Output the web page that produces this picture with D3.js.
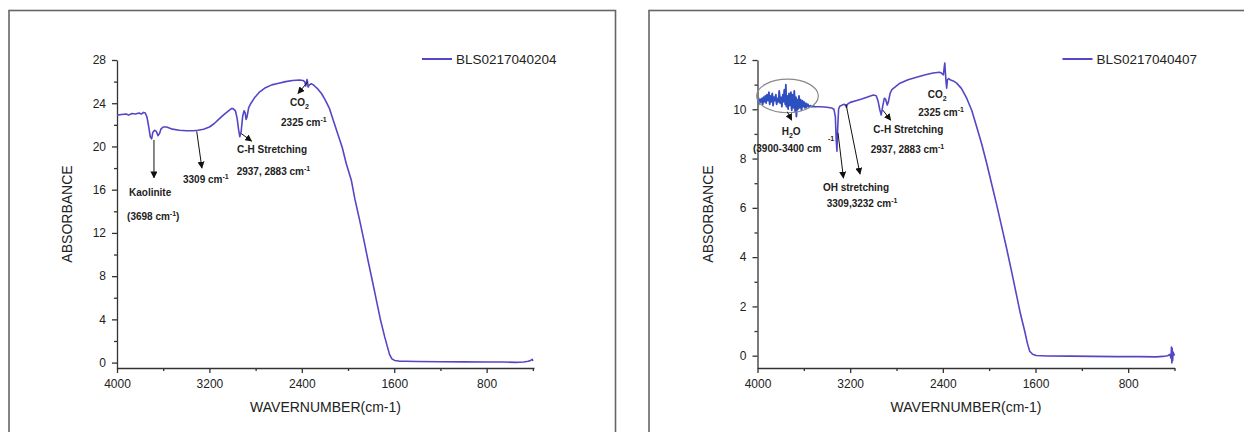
<html lang="en">
<head>
    <meta charset="UTF-8">
    <title>FTIR absorbance spectra</title>
    <script src="https://cdn.jsdelivr.net/npm/d3@7/dist/d3.min.js" type="text/javascript"></script>
    <style>
        body { margin: 0; background: #fff; }
        svg text { font-family: "Liberation Sans", Arial, sans-serif; fill: #222; }
        .axis path, .axis line { stroke: #333; stroke-width: 1.3; }
        .axis text { font-size: 12px; fill: #222; }
    </style>
</head>
<body>
    <svg id="svg"></svg>

    <script>

        var WIDTH = 1244;
        var HEIGHT = 432;
        var PLOT_TOP = 60;
        var PLOT_BOTTOM = 368;

        // axis ticks (shared x axis, separate y axes)
        var xTicks = [4000, 3200, 2400, 1600, 800];
        var xMinorTicks = [3600, 2800, 2000, 1200, 400];
        var leftYTicks = [0, 4, 8, 12, 16, 20, 24, 28];
        var leftYMinor = [2, 6, 10, 14, 18, 22, 26];
        var rightYTicks = [0, 2, 4, 6, 8, 10, 12];
        var rightYMinor = [1, 3, 5, 7, 9, 11];

        var leftName = "BLS0217040204";
        var rightName = "BLS0217040407";

        // left spectrum
        var leftWn = [4000, 3960, 3920, 3900, 3870, 3840, 3810, 3790, 3770, 3755,
                      3740, 3725, 3712, 3700, 3690, 3675, 3660, 3645, 3632, 3620,
                      3600, 3570, 3520, 3460, 3400, 3340, 3300, 3250, 3200, 3160,
                      3120, 3080, 3040, 3010, 2995, 2975, 2960, 2948, 2937, 2925,
                      2912, 2900, 2890, 2883, 2875, 2860, 2840, 2810, 2770, 2720,
                      2660, 2600, 2540, 2480, 2420, 2390, 2375, 2365, 2355, 2345,
                      2335, 2318, 2300, 2285, 2260, 2230, 2200, 2160, 2130, 2090,
                      2050, 2015, 1972, 1940, 1900, 1860, 1828, 1790, 1755, 1720,
                      1683, 1660, 1640, 1620, 1597, 1560, 1500, 1400, 1200, 1000,
                      800, 650, 550, 480, 440, 420, 405, 400];
        var leftAbs = [22.9, 22.95, 23.0, 22.9, 23.05, 23.0, 23.1, 23.0, 23.15, 23.1,
                       22.7, 21.8, 20.9, 20.7, 21.3, 21.5, 21.4, 21.0, 21.2, 21.6,
                       21.8, 21.8, 21.6, 21.5, 21.45, 21.45, 21.5, 21.6, 21.8, 22.1,
                       22.5, 22.9, 23.25, 23.5, 23.5, 23.3, 22.6, 21.6, 20.9, 21.4,
                       22.8, 23.3, 23.1, 22.5, 22.7, 23.6, 24.0, 24.5, 25.0, 25.4,
                       25.7, 25.85, 26.0, 26.1, 26.15, 26.1, 26.0, 25.6, 26.2, 25.5,
                       25.7, 25.8, 25.7, 25.55, 25.3, 24.9, 24.35, 23.5, 22.5, 21.2,
                       19.9, 18.4, 16.9, 15.1, 13.2, 11.2, 9.5, 7.6, 5.8, 4.0,
                       2.4, 1.5, 0.74, 0.35, 0.2, 0.14, 0.12, 0.1, 0.08, 0.07,
                       0.06, 0.05, 0.02, 0.05, 0.12, 0.2, 0.3, 0.15];

        // right spectrum (noisy water band at the start)
        var rightWn = [4000, 3992, 3985, 3978, 3970, 3962, 3955, 3948, 3940, 3932,
                       3925, 3918, 3910, 3902, 3895, 3888, 3880, 3872, 3865, 3858,
                       3850, 3842, 3835, 3828, 3820, 3812, 3805, 3798, 3790, 3782,
                       3775, 3768, 3760, 3756, 3750, 3742, 3735, 3728, 3720, 3712,
                       3705, 3698, 3690, 3682, 3675, 3668, 3664, 3658, 3650, 3642,
                       3635, 3628, 3620, 3612, 3605, 3598, 3590, 3582, 3575, 3565,
                       3555, 3545, 3530, 3515, 3500, 3450, 3400, 3360, 3340, 3328,
                       3320, 3314, 3308, 3300, 3290, 3270, 3250, 3238, 3232, 3225,
                       3200, 3150, 3100, 3050, 3000, 2975, 2960, 2945, 2932, 2920,
                       2905, 2893, 2880, 2870, 2855, 2840, 2800, 2770, 2700, 2627,
                       2550, 2484, 2430, 2412, 2395, 2388, 2383, 2378, 2372, 2367,
                       2360, 2350, 2338, 2310, 2281, 2240, 2194, 2150, 2108, 2065,
                       2021, 1980, 1937, 1895, 1851, 1808, 1765, 1730, 1693, 1670,
                       1650, 1625, 1593, 1500, 1300, 1100, 900, 700, 560, 500,
                       460, 440, 430, 426, 423, 420, 416, 412, 405, 400];
        var rightAbs = [10.3, 10.35, 10.25, 10.4, 10.3, 10.45, 10.2, 10.5, 10.3, 10.55,
                        10.25, 10.6, 10.35, 10.7, 10.2, 10.55, 10.3, 10.65, 10.15, 10.5,
                        10.35, 10.6, 10.2, 10.45, 10.3, 10.75, 10.25, 10.5, 10.1, 10.6,
                        10.3, 10.8, 10.2, 11.0, 10.1, 10.55, 10.0, 10.65, 10.15, 10.7,
                        9.95, 10.6, 10.05, 10.75, 9.9, 10.5, 9.7, 10.4, 10.0, 10.55,
                        10.05, 10.4, 9.95, 10.35, 10.1, 10.3, 10.05, 10.25, 10.1, 10.2,
                        10.1, 10.15, 10.1, 10.12, 10.1, 10.1, 10.08, 10.05, 10.0, 9.7,
                        8.7, 8.3, 9.2, 10.0, 10.12, 10.17, 10.2, 10.15, 10.08, 10.2,
                        10.28, 10.35, 10.42, 10.5, 10.58, 10.55, 10.35, 10.0, 9.77, 10.1,
                        10.45, 10.4, 10.17, 10.3, 10.65, 10.8, 10.95, 11.06, 11.2, 11.3,
                        11.4, 11.47, 11.5, 11.47, 11.4, 11.7, 11.88, 11.5, 11.1, 10.86,
                        11.2, 11.25, 11.2, 11.15, 11.06, 10.85, 10.45, 9.95, 9.29, 8.6,
                        7.8, 7.0, 6.16, 5.3, 4.39, 3.45, 2.49, 1.7, 0.99, 0.5,
                        0.18, 0.06, 0.01, -0.01, -0.02, -0.03, -0.04, -0.04, -0.05, -0.03,
                        0.0, 0.05, -0.1, 0.35, -0.3, 0.3, -0.2, 0.15, 0.05, 0.0];

        // annotations, in data units (wavenumber, absorbance)
        var leftArrows = [
            {from: [3680, 20.6], to: [3680, 17.1]},
            {from: [3310, 21.4], to: [3265, 18.0]},
            {from: [2925, 21.2], to: [2835, 20.5]},
            {from: [2347, 26.0], to: [2433, 24.9]}
        ];
        var leftNotes = [
            {at: [3896, 15.4], parts: ["Kaolinite"]},
            {at: [3913, 13.2], parts: ["(3698 cm", "^-1", ")"]},
            {at: [3429, 16.6], parts: ["3309 cm", "^-1"]},
            {at: [2961, 19.4], parts: ["C-H Stretching"]},
            {at: [2964, 17.4], parts: ["2937, 2883 cm", "^-1"]},
            {at: [2502, 23.7], parts: ["CO", "_2"]},
            {at: [2580, 21.9], parts: ["2325 cm", "^-1"]}
        ];
        var rightArrows = [
            {from: [3743, 9.9], to: [3705, 9.56]},
            {from: [3305, 9.04], to: [3258, 7.21]},
            {from: [3236, 10.21], to: [3115, 7.37]},
            {from: [2919, 9.97], to: [2850, 9.56]}
        ];
        var rightNotes = [
            {at: [3791, 8.96], parts: ["H", "_2", "O"]},
            {at: [4039, 8.28], parts: ["(3900-3400 cm"]},
            {at: [3391, 8.55], parts: ["^-1"]},
            {at: [3435, 6.70], parts: ["OH stretching"]},
            {at: [3403, 6.05], parts: ["3309,3232 cm", "^-1"]},
            {at: [3000, 9.03], parts: ["C-H Stretching"]},
            {at: [3023, 8.21], parts: ["2937, 2883 cm", "^-1"]},
            {at: [2531, 10.45], parts: ["CO", "_2"]},
            {at: [2612, 9.73], parts: ["2325 cm", "^-1"]}
        ];
        var rightCircle = {center: [3741, 10.54], rWn: 266, rAbs: 0.68};

        var LINE_COLOR = "#5447c6";

        var svg = d3.select("#svg")
                    .attr("width", WIDTH)
                    .attr("height", HEIGHT);

        svg.append("defs").append("marker")
            .attr("id", "arrow")
            .attr("viewBox", "0 0 10 10")
            .attr("refX", 9)
            .attr("refY", 5)
            .attr("markerUnits", "userSpaceOnUse")
            .attr("markerWidth", 7)
            .attr("markerHeight", 7)
            .attr("orient", "auto")
            .append("path")
            .attr("d", "M0,0L10,5L0,10z")
            .attr("fill", "#111");

        function drawNote(g, x, y, n){
            var t = g.append("text")
                     .attr("x", x(n.at[0]))
                     .attr("y", y(n.at[1]))
                     .attr("font-size", "10px")
                     .attr("font-weight", "bold");
            var shift = 0;
            n.parts.forEach(function(p){
                var s = t.append("tspan");
                var target = 0;
                if(p[0] === "^"){ target = -4; p = p.slice(1); s.attr("font-size", "7px"); }
                else if(p[0] === "_"){ target = 3; p = p.slice(1); s.attr("font-size", "7px"); }
                s.attr("dy", target - shift).text(p);
                shift = target;
            });
        }

        function drawPanel(p){
            var g = svg.append("g");

            var x = d3.scaleLinear()
                      .domain(p.xDomain)
                      .range([p.left, p.right]);
            var y = d3.scaleLinear()
                      .domain(p.yDomain)
                      .range([PLOT_BOTTOM, PLOT_TOP]);

            // panel frame
            g.append("rect")
                .attr("x", p.frame[0])
                .attr("y", p.frame[1])
                .attr("width", p.frame[2])
                .attr("height", p.frame[3])
                .attr("fill", "none")
                .attr("stroke", "#666")
                .attr("stroke-width", 1.6);

            // minor ticks first, then the labelled axes
            g.append("g")
                .attr("class", "axis")
                .attr("transform", "translate(0," + PLOT_BOTTOM + ")")
                .call(d3.axisBottom(x).tickValues(xMinorTicks).tickSize(3).tickSizeOuter(0).tickFormat(""))
                .call(function(a){ a.select(".domain").remove(); });
            g.append("g")
                .attr("class", "axis")
                .attr("transform", "translate(0," + PLOT_BOTTOM + ")")
                .call(d3.axisBottom(x).tickValues(xTicks).tickSize(5).tickPadding(6).tickSizeOuter(0).tickFormat(d3.format("d")));

            g.append("g")
                .attr("class", "axis")
                .attr("transform", "translate(" + p.left + ",0)")
                .call(d3.axisLeft(y).tickValues(p.yMinor).tickSize(3).tickSizeOuter(0).tickFormat(""))
                .call(function(a){ a.select(".domain").remove(); });
            g.append("g")
                .attr("class", "axis")
                .attr("transform", "translate(" + p.left + ",0)")
                .call(d3.axisLeft(y).tickValues(p.yTicks).tickSize(5).tickPadding(6).tickSizeOuter(0));

            // axis titles
            g.append("text")
                .attr("x", (p.left + p.right) / 2)
                .attr("y", 412)
                .attr("text-anchor", "middle")
                .attr("font-size", "14px")
                .text("WAVERNUMBER(cm-1)");
            g.append("text")
                .attr("transform", "translate(" + (p.left - 45) + "," + ((PLOT_TOP + PLOT_BOTTOM) / 2) + ") rotate(-90)")
                .attr("text-anchor", "middle")
                .attr("font-size", "14px")
                .text("ABSORBANCE");

            // spectrum
            var pts = p.wn.map(function(d, i){ return [d, p.abs[i]]; });
            var line = d3.line()
                         .x(function(d){ return x(d[0]); })
                         .y(function(d){ return y(d[1]); });

            g.append("path")
                .datum(pts)
                .attr("d", line)
                .attr("fill", "none")
                .attr("stroke", LINE_COLOR)
                .attr("stroke-width", 1.6)
                .attr("stroke-linejoin", "round");

            if(p.noisyFrom){
                g.append("path")
                    .datum(pts.filter(function(d){ return d[0] >= p.noisyFrom; }))
                    .attr("d", line)
                    .attr("fill", "none")
                    .attr("stroke", "#2b50c0")
                    .attr("stroke-width", 1.4);
            }

            if(p.circle){
                var c = p.circle;
                g.append("ellipse")
                    .attr("cx", x(c.center[0]))
                    .attr("cy", y(c.center[1]))
                    .attr("rx", Math.abs(x(c.center[0] - c.rWn) - x(c.center[0])))
                    .attr("ry", Math.abs(y(c.center[1] + c.rAbs) - y(c.center[1])))
                    .attr("fill", "none")
                    .attr("stroke", "#8a8a8a")
                    .attr("stroke-width", 1.2);
            }

            // arrows
            g.selectAll("line.arrow")
                .data(p.arrows)
                .enter()
                .append("line")
                .attr("class", "arrow")
                .attr("x1", function(d){ return x(d.from[0]); })
                .attr("y1", function(d){ return y(d.from[1]); })
                .attr("x2", function(d){ return x(d.to[0]); })
                .attr("y2", function(d){ return y(d.to[1]); })
                .attr("stroke", "#111")
                .attr("stroke-width", 1)
                .attr("marker-end", "url(#arrow)");

            p.notes.forEach(function(n){ drawNote(g, x, y, n); });

            // legend
            g.append("line")
                .attr("x1", p.right - 112)
                .attr("x2", p.right - 82)
                .attr("y1", PLOT_TOP - 1)
                .attr("y2", PLOT_TOP - 1)
                .attr("stroke", LINE_COLOR)
                .attr("stroke-width", 2);
            g.append("text")
                .attr("x", p.right - 78)
                .attr("y", PLOT_TOP + 4)
                .attr("font-size", "13.5px")
                .text(p.name);
        }

        drawPanel({
            frame: [9, 10.5, 606.5, 440],
            left: 117, right: 534,
            xDomain: [4000, 390],
            yDomain: [-0.5, 28],
            yTicks: leftYTicks, yMinor: leftYMinor,
            wn: leftWn, abs: leftAbs,
            name: leftName,
            arrows: leftArrows, notes: leftNotes
        });

        drawPanel({
            frame: [649, 10.5, 620, 440],
            left: 757.5, right: 1174.5,
            xDomain: [4000, 400],
            yDomain: [-0.5, 12],
            yTicks: rightYTicks, yMinor: rightYMinor,
            wn: rightWn, abs: rightAbs,
            name: rightName,
            arrows: rightArrows, notes: rightNotes,
            circle: rightCircle,
            noisyFrom: 3500
        });

    </script>

</body>
</html>
